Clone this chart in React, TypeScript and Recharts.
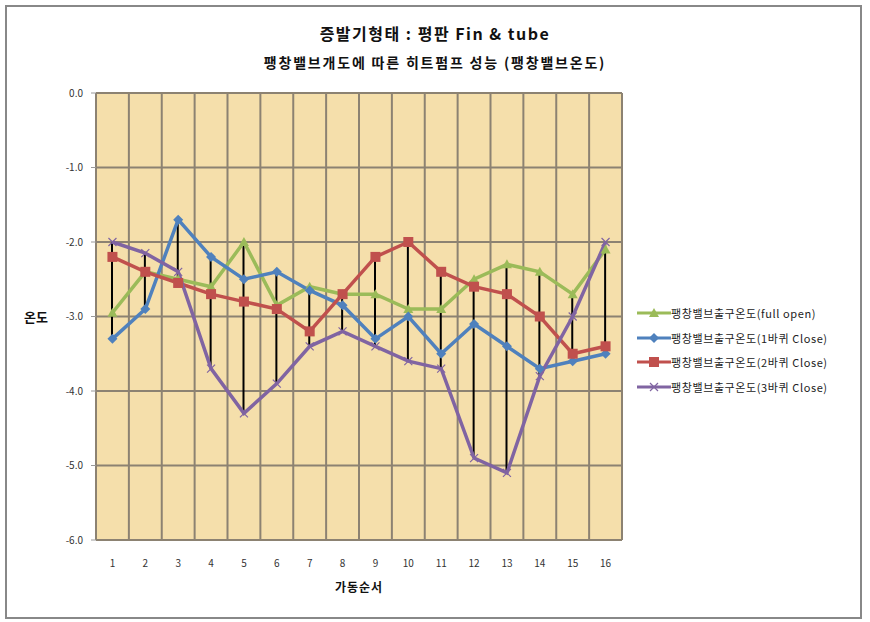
import React from 'react';
import { ComposedChart, Line, Bar, XAxis, YAxis, CartesianGrid } from 'recharts';

const categories = ['1', '2', '3', '4', '5', '6', '7', '8', '9', '10', '11', '12', '13', '14', '15', '16'];
const fullOpen = [-2.95, -2.4, -2.5, -2.6, -2.0, -2.85, -2.6, -2.7, -2.7, -2.9, -2.9, -2.5, -2.3, -2.4, -2.7, -2.1];
const close1 = [-3.3, -2.9, -1.7, -2.2, -2.5, -2.4, -2.65, -2.85, -3.3, -3.0, -3.5, -3.1, -3.4, -3.7, -3.6, -3.5];
const close2 = [-2.2, -2.4, -2.55, -2.7, -2.8, -2.9, -3.2, -2.7, -2.2, -2.0, -2.4, -2.6, -2.7, -3.0, -3.5, -3.4];
const close3 = [-2.0, -2.15, -2.4, -3.7, -4.3, -3.9, -3.4, -3.2, -3.4, -3.6, -3.7, -4.9, -5.1, -3.8, -3.0, -2.0];
const yTicks = [-6, -5, -4, -3, -2, -1, 0];

const seriesNames = [
  '팽창밸브출구온도(full open)',
  '팽창밸브출구온도(1바퀴 Close)',
  '팽창밸브출구온도(2바퀴 Close)',
  '팽창밸브출구온도(3바퀴 Close)',
];
const colors = ['#9bbb59', '#4f81bd', '#c0504d', '#8064a2'];

const data = categories.map((c, i) => {
  const vals = [fullOpen[i], close1[i], close2[i], close3[i]];
  return {
    cat: c,
    s0: fullOpen[i],
    s1: close1[i],
    s2: close2[i],
    s3: close3[i],
    range: [Math.min(...vals), Math.max(...vals)],
  };
});

const FONT = '"Noto Sans CJK KR", "Noto Sans", sans-serif';

const Triangle = (props: any) => {
  const { cx, cy } = props;
  if (cx == null || cy == null) return null;
  return <path d={`M${cx},${cy - 5} L${cx + 5},${cy + 4} L${cx - 5},${cy + 4} Z`} fill={colors[0]} />;
};
const Diamond = (props: any) => {
  const { cx, cy } = props;
  if (cx == null || cy == null) return null;
  return <path d={`M${cx},${cy - 5} L${cx + 5},${cy} L${cx},${cy + 5} L${cx - 5},${cy} Z`} fill={colors[1]} />;
};
const Square = (props: any) => {
  const { cx, cy } = props;
  if (cx == null || cy == null) return null;
  return <rect x={cx - 5} y={cy - 5} width={10} height={10} fill={colors[2]} />;
};
const Cross = (props: any) => {
  const { cx, cy } = props;
  if (cx == null || cy == null) return null;
  return (
    <path
      d={`M${cx - 4},${cy - 4} L${cx + 4},${cy + 4} M${cx - 4},${cy + 4} L${cx + 4},${cy - 4}`}
      stroke={colors[3]}
      strokeWidth={1.2}
      fill="none"
    />
  );
};
const markers = [Triangle, Diamond, Square, Cross];

const LegendBox = () => (
  <div
    style={{
      position: 'absolute',
      left: 637,
      top: 301,
      fontFamily: FONT,
      fontSize: 11,
      letterSpacing: 0.6,
      color: '#222',
    }}
  >
    {seriesNames.map((n, i) => {
      const M = markers[i];
      return (
        <div key={n} style={{ display: 'flex', alignItems: 'center', height: 24.5 }}>
          <svg width={34} height={12}>
            <line x1={0} y1={6} x2={34} y2={6} stroke={colors[i]} strokeWidth={3} />
            <M cx={17} cy={6} />
          </svg>
          <span style={{ whiteSpace: 'nowrap' }}>{n}</span>
        </div>
      );
    })}
  </div>
);

export default function App() {
  return (
    <div style={{ position: 'absolute', left: 0, top: 0, width: 870, height: 622, background: '#fff' }}>
      <div
        style={{
          position: 'absolute',
          left: 5,
          top: 5,
          width: 853,
          height: 610,
          border: '2px solid #888',
        }}
      />
      <div
        style={{
          position: 'absolute',
          left: 0,
          width: 870,
          top: 21,
          textAlign: 'center',
          fontFamily: FONT,
          fontWeight: 700,
          fontSize: 16,
          letterSpacing: 1.5,
          color: '#111',
        }}
      >
        증발기형태 : 평판 Fin &amp; tube
      </div>
      <div
        style={{
          position: 'absolute',
          left: 0,
          width: 870,
          top: 52,
          textAlign: 'center',
          fontFamily: FONT,
          fontWeight: 700,
          fontSize: 14,
          letterSpacing: 1.8,
          color: '#111',
        }}
      >
        팽창밸브개도에 따른 히트펌프 성능 (팽창밸브온도)
      </div>
      <div
        style={{
          position: 'absolute',
          left: 24,
          top: 307,
          fontFamily: FONT,
          fontWeight: 700,
          fontSize: 13,
          color: '#111',
        }}
      >
        온도
      </div>
      <div
        style={{
          position: 'absolute',
          left: 96,
          width: 526,
          top: 578,
          textAlign: 'center',
          fontFamily: FONT,
          fontWeight: 700,
          fontSize: 12,
          letterSpacing: 1,
          color: '#111',
        }}
      >
        가동순서
      </div>
      <div style={{ position: 'absolute', left: 0, top: 0 }}>
        <ComposedChart
          width={870}
          height={622}
          data={data}
          margin={{ top: 93, right: 248, bottom: 52, left: 40 }}
        >
          <CartesianGrid
            fill="#f5dfab"
            stroke="#8c8272"
            strokeWidth={2}
            horizontalValues={yTicks}
            verticalCoordinatesGenerator={({ offset }: any) => {
              const out: number[] = [];
              for (let i = 0; i <= categories.length; i++) {
                out.push(offset.left + (i * offset.width) / categories.length);
              }
              return out;
            }}
          />
          <XAxis
            dataKey="cat"
            height={30}
            axisLine={false}
            tickLine={false}
            tickMargin={14}
            tick={{ fontSize: 10, fill: '#333', fontFamily: FONT }}
            interval={0}
          />
          <YAxis
            width={56}
            domain={[-6, 0]}
            ticks={yTicks}
            tickFormatter={(v: number) => v.toFixed(1)}
            axisLine={false}
            tickSize={5}
            tickMargin={8}
            tickLine={{ stroke: '#999' }}
            tick={{ fontSize: 10, fill: '#333', fontFamily: FONT }}
            allowDataOverflow
          />
          {['s0', 's1', 's2', 's3'].map((k, i) => {
            const M = markers[i];
            return (
              <Line
                key={k}
                dataKey={k}
                name={seriesNames[i]}
                stroke={colors[i]}
                strokeWidth={3.5}
                dot={(p: any) => <M key={`${k}-${p.index}`} {...p} />}
                activeDot={false}
                isAnimationActive={false}
              />
            );
          })}
          <Bar dataKey="range" barSize={2} fill="#000" legendType="none" isAnimationActive={false} />
        </ComposedChart>
      </div>
      <LegendBox />
    </div>
  );
}
